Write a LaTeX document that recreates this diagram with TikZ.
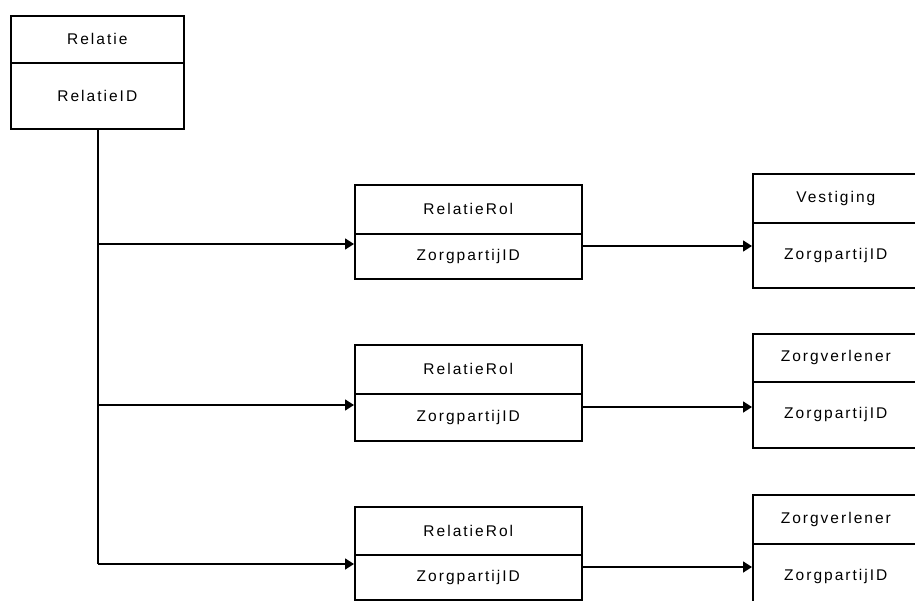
\documentclass[tikz,border=0pt]{standalone}
\usepackage{fontspec}
\usetikzlibrary{arrows.meta}
\newfontfamily\pxfont[LetterSpace=13]{Liberation Sans}
\begin{document}
\begin{tikzpicture}[x=1pt,y=-1pt,
  cell/.style={draw=black,line width=1.6pt,anchor=north west,inner sep=0pt,
    font=\pxfont\fontsize{15.5}{18}\selectfont,align=center},
  conn/.style={line width=1.6pt,-{Triangle[length=9pt,width=11pt]}}]
\useasboundingbox (0,0) rectangle (915,600);
\fill[white] (0,0) rectangle (915,600);
\clip (0,0) rectangle (915,600);
% Relatie
\node[cell,minimum width=173pt,minimum height=47pt] (relh) at (10,15) {Relatie};
\node[cell,minimum width=173pt,minimum height=66pt] (relb) at (10,62) {RelatieID};
% RelatieRol boxes
\node[cell,minimum width=227pt,minimum height=49pt] (r1h) at (354,184) {RelatieRol};
\node[cell,minimum width=227pt,minimum height=45pt] (r1b) at (354,233) {ZorgpartijID};
\node[cell,minimum width=227pt,minimum height=49pt] (r2h) at (354,344) {RelatieRol};
\node[cell,minimum width=227pt,minimum height=47pt] (r2b) at (354,393) {ZorgpartijID};
\node[cell,minimum width=227pt,minimum height=48pt] (r3h) at (354,506) {RelatieRol};
\node[cell,minimum width=227pt,minimum height=45pt] (r3b) at (354,554) {ZorgpartijID};
% right boxes
\node[cell,minimum width=166pt,minimum height=49pt] (v1h) at (752,173) {Vestiging};
\node[cell,minimum width=166pt,minimum height=65pt] (v1b) at (752,222) {ZorgpartijID};
\node[cell,minimum width=166pt,minimum height=48pt] (v2h) at (752,333) {Zorgverlener};
\node[cell,minimum width=166pt,minimum height=66pt] (v2b) at (752,381) {ZorgpartijID};
\node[cell,minimum width=166pt,minimum height=49pt] (v3h) at (752,494) {Zorgverlener};
\node[cell,minimum width=166pt,minimum height=65pt] (v3b) at (752,543) {ZorgpartijID};
% trunk
\coordinate (t1) at ([xshift=-256pt,yshift=-11pt]r1b.north west);
\coordinate (t2) at ([xshift=-256pt,yshift=-12pt]r2b.north west);
\coordinate (t3) at ([xshift=-256pt,yshift=-10pt]r3b.north west);
\draw[line width=1.6pt] (relb.south -| t1) -- (t3);
\draw[conn] (t1) -- ([yshift=-11pt]r1b.north west);
\draw[conn] (t2) -- ([yshift=-12pt]r2b.north west);
\draw[conn] (t3) -- ([yshift=-10pt]r3b.north west);
% right connectors
\draw[conn] ([yshift=-13pt]r1b.north east) -- ([yshift=-13pt]r1b.north east -| v1b.west);
\draw[conn] ([yshift=-14pt]r2b.north east) -- ([yshift=-14pt]r2b.north east -| v2b.west);
\draw[conn] ([yshift=-13pt]r3b.north east) -- ([yshift=-13pt]r3b.north east -| v3b.west);
\end{tikzpicture}
\end{document}
